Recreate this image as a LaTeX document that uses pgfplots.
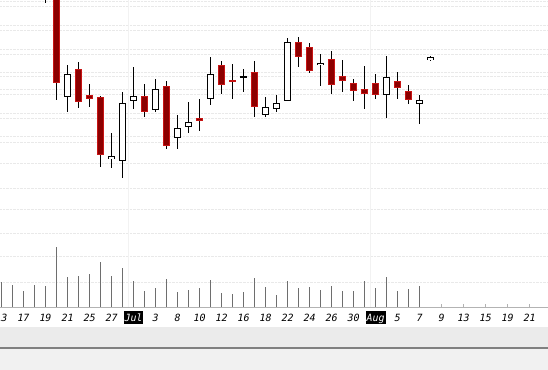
\documentclass[border=0pt]{standalone}
\usepackage{pgfplots}
\pgfplotsset{compat=1.18}
\usepackage{pgfplotstable}
\usepackage{fontspec}
\setmonofont{DejaVu Sans Mono}
\definecolor{redout}{RGB}{200,20,20}
\definecolor{redin}{RGB}{140,0,0}
\definecolor{volc}{RGB}{110,110,110}
\definecolor{band}{RGB}{235,235,235}
\definecolor{lowband}{RGB}{241,241,241}
\definecolor{darkline}{RGB}{128,128,128}
\newcommand{\mon}[1]{{\setlength{\fboxsep}{1bp}\colorbox{black}{\textcolor{white}{\rule[-1.85bp]{0pt}{11bp}#1}}}}

% candles: k = trading-day index, o h l c
\pgfplotstableread{
k o h l c
6 210.3 242 195.3 233
10 147.7 174.3 139.3 151
11 146.3 215 129.3 203.7
12 205.7 240.3 198.3 210.7
14 196.7 228 195.3 218
16 168.7 192 158 179
17 179.7 205.3 173.7 184.7
19 208.3 249.7 202.3 233
24 191.7 209.7 190.3 199.7
25 197.7 211.7 194.7 203.7
26 205.7 269.3 205.7 264.7
29 241.7 253 221.3 244.3
35 211.7 251 188.7 229.7
38 203.3 211.7 183.3 207
39 247 251 246 249.7
}\tabup

\pgfplotstableread{
k o h l c
4 330 345 304.3 312
5 337 345 207 224.3
7 238 245.3 198.7 205.3
8 211.7 223 200.3 207.7
9 210 211 140.3 152
13 211 223 190.3 194.7
15 221 226.3 158 161.3
18 189.3 208 176.3 186.3
20 241.7 246 213 222.3
21 227 243 208.3 225.3
23 235 245.7 190.3 200.3
27 264.7 269.7 240.3 249.7
28 259.7 264.3 233.7 235.7
30 247.7 256 213.3 221.7
31 230.7 247 215 226.3
32 223.7 228 206.3 216.3
33 217.7 241 198.3 213.3
34 223.7 233 207.7 212.3
36 226 235 207.7 218.7
37 216 222 203 207
}\tabdown

\pgfplotstableread{
k o h l c
22 230.7 237.7 215.3 229.3
}\tabflat

\pgfplotstableread{
k v
0 25
1 22.4
2 16
3 22.4
4 20.7
5 60
6 30
7 31
8 33.4
9 45
10 31
11 39
12 25.7
13 16
14 19
15 28
16 15
17 17.4
18 19
19 26.7
20 14
21 13
22 15
23 29
24 20
25 11.7
26 25.7
27 19
28 20
29 17
30 21
31 16.4
32 16.4
33 26
34 19
35 29.7
36 16
37 18
38 21
}\tabvol

\pgfplotsset{
  wick/.style={draw=none, mark=none, forget plot,
    error bars/.cd, y dir=both, y explicit, error mark=none,
    error bar style={draw=black, line width=1.2bp, solid}},
  body/.style={draw=none, mark=none, forget plot,
    error bars/.cd, y dir=both, y explicit, error mark=none,
    error bar style={draw=#1, line width=7bp, solid}},
  inner/.style={draw=none, mark=none, forget plot,
    error bars/.cd, y dir=both, y explicit, error mark=none,
    error bar style={draw=#1, line width=5bp, solid}},
}

\begin{document}
\begin{tikzpicture}
\useasboundingbox (0,-63bp) rectangle (548bp,307bp);
\fill[white] (0,-63bp) rectangle (548bp,307bp);
\fill[band] (0,-20bp) rectangle (548bp,-39.7bp);
\fill[darkline] (0,-39.7bp) rectangle (548bp,-41.7bp);
\fill[lowband] (0,-41.7bp) rectangle (548bp,-63bp);
\begin{axis}[
  at={(0,0)}, anchor=south west,
  scale only axis, width=548bp, height=307bp,
  xmin=-0.13636, xmax=49.6818, ymin=0, ymax=307,
  axis x line*=bottom, axis y line*=left,
  x axis line style={draw=darkline!60, line width=0.8bp},
  y axis line style={draw=none},
  xtick={0,2,...,50},
  xticklabels={13,17,19,21,25,27,\mon{Jul},3,8,10,12,16,18,22,24,26,30,\mon{Aug},5,7,9,13,15,19,21,23},
  xticklabel style={font=\fontsize{10}{12}\selectfont\ttfamily\itshape, anchor=center, yshift=-10.5bp, inner sep=0pt},
  tick align=inside, major tick length=3bp,
  xtick style={draw=gray!60, line width=0.8bp},
  ytick={305.3,301,282,277,257.7,253,235,230.3,217.7,212.3,193.7,188.7,170.3,164.3,143.7,118.7,98,73.7,50.3,24.7},
  yticklabels={}, ytick style={draw=none},
  ymajorgrids,
  major grid style={densely dotted, gray!17, line width=0.8bp},
  extra x ticks={11.5,33.5}, extra x tick labels={},
  extra x tick style={grid=major, major grid style={solid, gray!10, line width=0.8bp}, major tick length=0pt},
]
% volume
\addplot[ycomb, volc, line width=1bp, mark=none] table[x=k, y=v] {\tabvol};
% wicks
\addplot[wick] table[x=k, y expr={(\thisrow{h}+\thisrow{l})/2}, y error expr={(\thisrow{h}-\thisrow{l})/2}] {\tabup};
\addplot[wick] table[x=k, y expr={(\thisrow{h}+\thisrow{l})/2}, y error expr={(\thisrow{h}-\thisrow{l})/2}] {\tabdown};
\addplot[wick] table[x=k, y expr={(\thisrow{h}+\thisrow{l})/2}, y error expr={(\thisrow{h}-\thisrow{l})/2}] {\tabflat};
% up bodies
\addplot[body=black] table[x=k, y expr={(\thisrow{o}+\thisrow{c})/2}, y error expr={abs(\thisrow{o}-\thisrow{c})/2}] {\tabup};
\addplot[inner=white] table[x=k, y expr={(\thisrow{o}+\thisrow{c})/2}, y error expr={max(abs(\thisrow{o}-\thisrow{c})/2-1,0)}] {\tabup};
% down bodies
\addplot[body=redout] table[x=k, y expr={(\thisrow{o}+\thisrow{c})/2}, y error expr={abs(\thisrow{o}-\thisrow{c})/2}] {\tabdown};
\addplot[inner=redin] table[x=k, y expr={(\thisrow{o}+\thisrow{c})/2}, y error expr={max(abs(\thisrow{o}-\thisrow{c})/2-1,0)}] {\tabdown};
% flat body
\addplot[body=black] table[x=k, y expr={(\thisrow{o}+\thisrow{c})/2}, y error expr={abs(\thisrow{o}-\thisrow{c})/2}] {\tabflat};
\end{axis}
\end{tikzpicture}
\end{document}
